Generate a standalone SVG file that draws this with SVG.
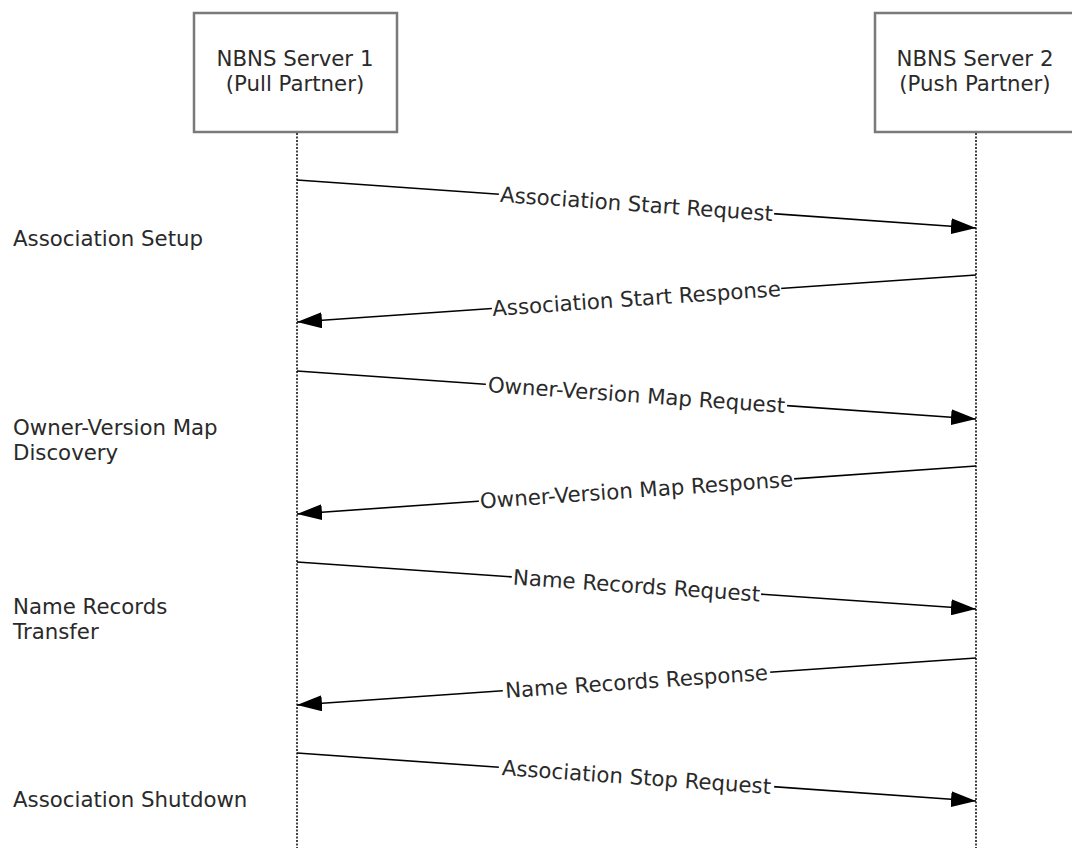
<svg xmlns="http://www.w3.org/2000/svg" width="1072" height="848" viewBox="0 0 1072 848">
<style>
text{font-family:"DejaVu Sans","Verdana",sans-serif;font-size:21.3px;fill:#2a2a2a}
.box{fill:#fff;stroke:#7a7a7a;stroke-width:2.5}
.life{stroke:#444;stroke-width:2;stroke-dasharray:2 1.5}
.msg{stroke:#000;stroke-width:1.6;fill:none;marker-end:url(#ah)}
.bg{fill:#fff}
.c{text-anchor:middle}
</style>
<defs>
<marker id="ah" markerUnits="userSpaceOnUse" markerWidth="26" markerHeight="16" refX="25" refY="8" orient="auto">
<path d="M0,0 L25,8 L0,16 z" fill="#000"/>
</marker>
</defs>
<g id="server1">
<rect class="box" x="194" y="13" width="203" height="119"/>
<text class="c" x="295" y="66">NBNS Server 1</text>
<text class="c" x="295" y="91">(Pull Partner)</text>
<line class="life" x1="297" y1="133" x2="297" y2="848"/>
</g>
<g id="server2">
<rect class="box" x="875" y="13" width="204" height="119"/>
<text class="c" x="975" y="66">NBNS Server 2</text>
<text class="c" x="975" y="91">(Push Partner)</text>
<line class="life" x1="976" y1="133" x2="976" y2="848"/>
</g>
<g id="phases">
<text x="13" y="246">Association Setup</text>
<text x="13" y="435">Owner-Version Map</text>
<text x="13" y="460">Discovery</text>
<text x="13" y="614">Name Records</text>
<text x="13" y="639">Transfer</text>
<text x="13" y="807">Association Shutdown</text>
</g>
<g id="connectors">
<line class="msg" x1="297" y1="180" x2="976" y2="228"/>
<line class="msg" x1="976" y1="275" x2="297" y2="322"/>
<line class="msg" x1="297" y1="371" x2="976" y2="419"/>
<line class="msg" x1="976" y1="466" x2="297" y2="514"/>
<line class="msg" x1="297" y1="562" x2="976" y2="609"/>
<line class="msg" x1="976" y1="658" x2="297" y2="705"/>
<line class="msg" x1="297" y1="753" x2="976" y2="801"/>
<g transform="translate(636.5,204) rotate(4.04)">
<rect class="bg" x="-138" y="-11" width="276" height="22"/>
<text class="c" y="7.5">Association Start Request</text>
</g>
<g transform="translate(636.5,298.5) rotate(-3.96)">
<rect class="bg" x="-145" y="-11" width="290" height="22"/>
<text class="c" y="7.5">Association Start Response</text>
</g>
<g transform="translate(636.5,395) rotate(4.04)">
<rect class="bg" x="-151" y="-11" width="302" height="22"/>
<text class="c" y="7.5">Owner-Version Map Request</text>
</g>
<g transform="translate(636.5,490) rotate(-4.04)">
<rect class="bg" x="-158" y="-11" width="316" height="22"/>
<text class="c" y="7.5">Owner-Version Map Response</text>
</g>
<g transform="translate(636.5,585.5) rotate(3.96)">
<rect class="bg" x="-125" y="-11" width="250" height="22"/>
<text class="c" y="7.5">Name Records Request</text>
</g>
<g transform="translate(636.5,681.5) rotate(-3.96)">
<rect class="bg" x="-134" y="-11" width="268" height="22"/>
<text class="c" y="7.5">Name Records Response</text>
</g>
<g transform="translate(636.5,777) rotate(4.04)">
<rect class="bg" x="-138" y="-11" width="276" height="22"/>
<text class="c" y="7.5">Association Stop Request</text>
</g>
</g>
</svg>
